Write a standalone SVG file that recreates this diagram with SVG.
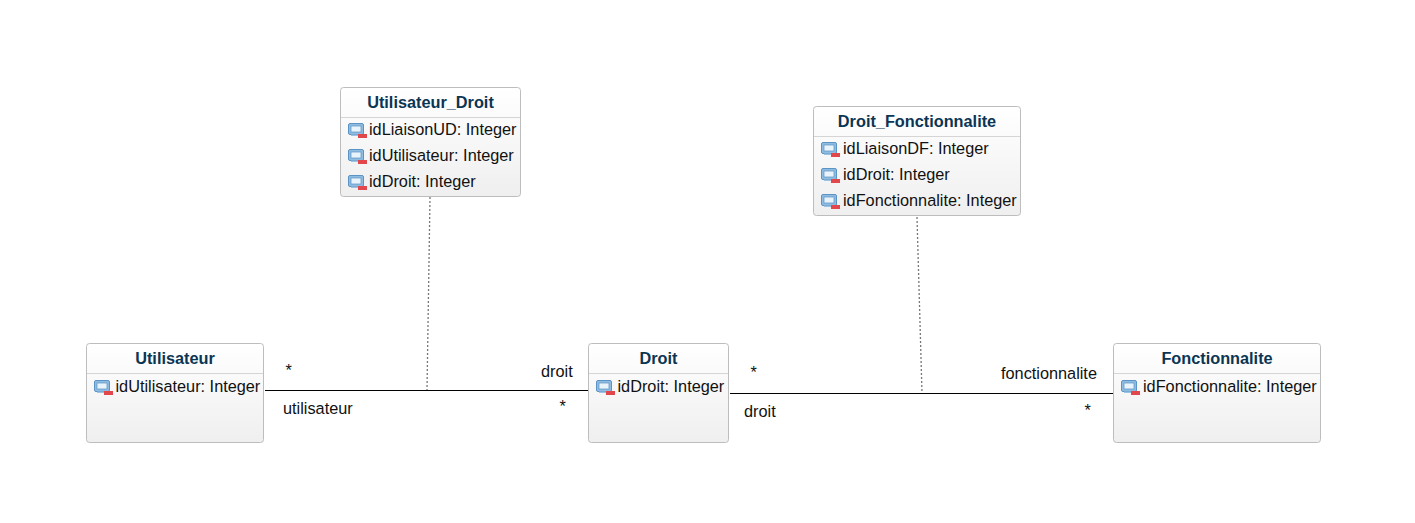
<svg xmlns="http://www.w3.org/2000/svg" width="1415" height="523" viewBox="0 0 1415 523">
<style>
text{font-family:"Liberation Sans",Arial,sans-serif;font-size:16.3px;fill:#111}
.t{font-weight:bold;fill:#0b3553;text-anchor:middle;font-size:16.3px}
.b{fill:url(#g);stroke:#bdbdbd;stroke-width:1}
.d{stroke:#d5d5d5;stroke-width:1}
.c{stroke:#000;stroke-width:1.2;fill:none}
.n{stroke:#777;stroke-width:1.3;stroke-dasharray:2 2;fill:none}
</style>
<defs>
<linearGradient id="g" x1="0" y1="0" x2="0" y2="1"><stop offset="0" stop-color="#fff"/><stop offset="1" stop-color="#efefef"/></linearGradient>
<g id="i">
<rect x="0.5" y="0.5" width="15" height="11" rx="1.5" fill="#8fbce0" stroke="#5b93c4"/>
<rect x="3" y="3" width="10" height="6" fill="#e9f3fb" stroke="#5b93c4" stroke-width="0.7"/>
<rect x="3" y="11.500" width="10" height="1.500" fill="#9cc3e2"/>
<rect x="10" y="11" width="9" height="4" fill="#e2474b"/>
</g>
</defs>
<rect width="1415" height="523" fill="#fff"/>
<g id="connectors">
<path class="c" d="M265 390.500H588"/>
<path class="c" d="M730 393.500H1113"/>
<path class="n" d="M430 197L427 390"/>
<path class="n" d="M917 217L922 393"/>
</g>
<g id="Utilisateur_Droit">
<rect class="b" x="340.500" y="87.500" width="180" height="109" rx="3"/>
<path class="d" d="M341 117.500H520"/>
<text class="t" x="430.500" y="107.500">Utilisateur_Droit</text>
<use href="#i" x="348" y="123"/><text x="369" y="135">idLiaisonUD: Integer</text>
<use href="#i" x="348" y="149"/><text x="369" y="161">idUtilisateur: Integer</text>
<use href="#i" x="348" y="175"/><text x="369" y="187">idDroit: Integer</text>
</g>
<g id="Droit_Fonctionnalite">
<rect class="b" x="813.500" y="106.500" width="207" height="109" rx="3"/>
<path class="d" d="M814 136.500H1020"/>
<text class="t" x="917" y="126.500">Droit_Fonctionnalite</text>
<use href="#i" x="821" y="142"/><text x="843" y="154">idLiaisonDF: Integer</text>
<use href="#i" x="821" y="168"/><text x="843" y="180">idDroit: Integer</text>
<use href="#i" x="821" y="194"/><text x="843" y="206">idFonctionnalite: Integer</text>
</g>
<g id="Utilisateur">
<rect class="b" x="86.500" y="343.500" width="177" height="99" rx="3"/>
<path class="d" d="M87 373.500H263"/>
<text class="t" x="175" y="363.500">Utilisateur</text>
<use href="#i" x="94" y="380"/><text x="115.500" y="392">idUtilisateur: Integer</text>
</g>
<g id="Droit">
<rect class="b" x="588.500" y="343.500" width="140" height="99" rx="3"/>
<path class="d" d="M589 373.500H728"/>
<text class="t" x="658.500" y="363.500">Droit</text>
<use href="#i" x="596" y="380"/><text x="617.500" y="392">idDroit: Integer</text>
</g>
<g id="Fonctionnalite">
<rect class="b" x="1113.500" y="343.500" width="207" height="99" rx="3"/>
<path class="d" d="M1114 373.500H1320"/>
<text class="t" x="1217" y="363.500">Fonctionnalite</text>
<use href="#i" x="1121" y="380"/><text x="1143" y="392">idFonctionnalite: Integer</text>
</g>
<g id="labels">
<text x="285.500" y="376">*</text>
<text x="283" y="413.500">utilisateur</text>
<text x="541" y="376.500">droit</text>
<text x="559.500" y="412">*</text>
<text x="750.500" y="378">*</text>
<text x="744" y="416.500">droit</text>
<text x="1001" y="378.500">fonctionnalite</text>
<text x="1084.500" y="416">*</text>
</g>
</svg>
